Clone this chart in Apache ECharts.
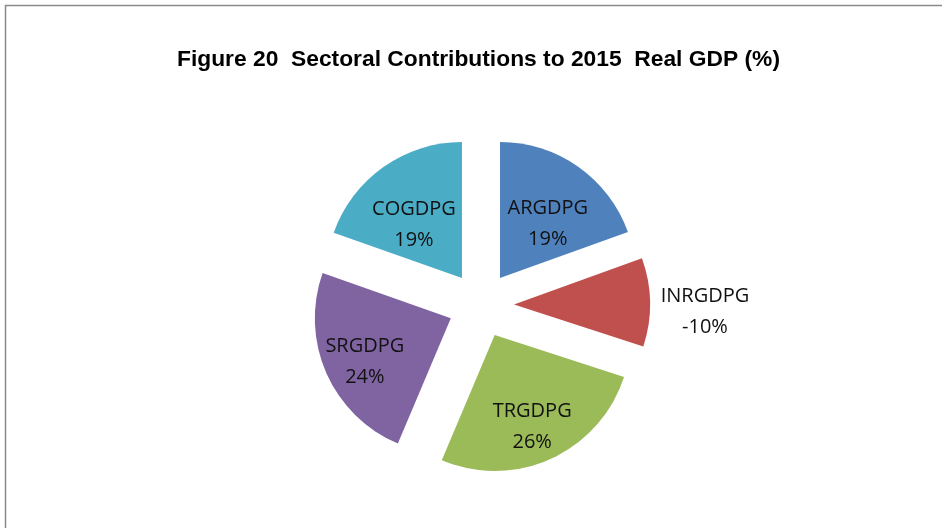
<!DOCTYPE html>
<html><head><meta charset="utf-8">
<script src="https://cdn.jsdelivr.net/npm/echarts@6/dist/echarts.min.js"></script>
<style>html,body{margin:0;padding:0;background:#fff}#c{width:942px;height:528px}</style>
</head><body><div id="c"></div>
<script>
const categories = ['ARGDPG', 'INRGDPG', 'TRGDPG', 'SRGDPG', 'COGDPG'];
const values = [19.3, -10.4, 26.1, 23.8, 19.4];
const colors = ['#4F81BD', '#C0504D', '#9BBB59', '#8064A2', '#4BACC6'];
const labelShift = [[7, 4], [120, 8], [8, 27], [-21, 15], [-7, 5]];

const chart = echarts.init(document.getElementById('c'));
const data = categories.map((name, i) => ({
  name, value: Math.abs(values[i]), raw: values[i], selected: true, itemStyle: { color: colors[i] }
}));
chart.setOption({
  animation: false,
  backgroundColor: '#fff',
  title: {
    text: 'Figure 20  Sectoral Contributions to 2015  Real GDP (%)',
    left: 172, top: 43,
    textStyle: { fontFamily: 'Liberation Sans, Arial, sans-serif', fontWeight: 'bold', fontSize: 22.8, color: '#000' }
  },
  graphic: [{ type: 'rect', shape: { x: 5.5, y: 5.5, width: 1200, height: 1200 }, style: { fill: 'none', stroke: '#8a8a8a', lineWidth: 1.5 }, silent: true }],
  series: [{
    type: 'pie',
    center: [481, 305],
    radius: [0, 136],
    startAngle: 90,
    clockwise: true,
    selectedMode: 'multiple',
    selectedOffset: 33,
    avoidLabelOverlap: false,
    emphasis: { disabled: true },
    label: {
      show: true, position: 'inside',
      fontFamily: 'Open Sans, sans-serif', fontSize: 20, color: '#111', lineHeight: 31,
      formatter: p => p.name + '\n' + Math.round(p.data.raw) + '%'
    },
    labelLine: { show: false },
    labelLayout: p => ({ dx: labelShift[p.dataIndex][0], dy: labelShift[p.dataIndex][1] }),
    data
  }]
});
</script></body></html>
